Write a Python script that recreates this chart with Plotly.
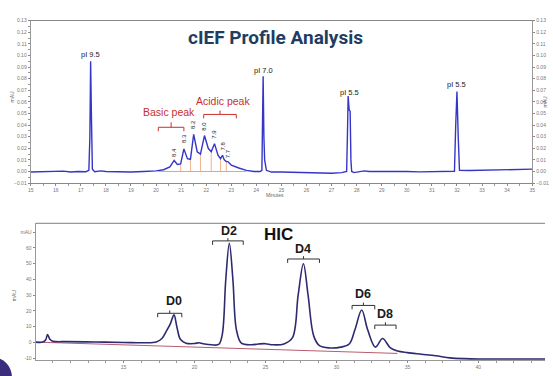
import plotly.graph_objects as go

# ---- cIEF electropherogram (minutes, mAU) ----
cief_time = [15.0, 15.5, 16.0, 16.3, 16.6, 16.9, 17.2, 17.32, 17.36, 17.39, 17.42, 17.46,
             17.55, 17.8, 18.0, 18.5, 19.0, 19.5, 19.8, 20.0, 20.3, 20.55, 20.72, 20.85,
             20.98, 21.11, 21.25, 21.37, 21.5, 21.64, 21.77, 21.93, 22.08, 22.2, 22.33,
             22.47, 22.57, 22.65, 22.72, 22.8, 22.86, 23.0, 23.3, 23.6, 23.9, 24.15, 24.22,
             24.25, 24.27, 24.3, 24.33, 24.4, 24.6, 25.0, 25.5, 26.0, 26.5, 27.0, 27.4,
             27.6, 27.63, 27.66, 27.7, 27.74, 27.77, 27.8, 27.9, 28.1, 28.3, 28.5, 29.0,
             29.5, 30.0, 30.5, 31.0, 31.5, 31.9, 31.95, 32.0, 32.05, 32.1, 32.5, 33.0,
             33.5, 34.0, 34.5, 35.0]
cief_signal = [-0.0005, -0.0003, -0.0002, 0.0003, -0.0005, 0.0, -0.0002, 0.001, 0.03, 0.095,
               0.05, 0.002, -0.0002, 0.0005, 0.0, -0.0005, -0.0005, 0.0, 0.0003, 0.0005,
               0.0015, 0.004, 0.0095, 0.006, 0.0065, 0.0195, 0.011, 0.0105, 0.032, 0.017,
               0.015, 0.031, 0.02, 0.017, 0.024, 0.014, 0.011, 0.014, 0.01, 0.0085, 0.0085,
               0.0055, 0.003, 0.001, 0.0, 0.0, 0.001, 0.04, 0.082, 0.03, 0.01, 0.001,
               -0.0005, -0.0005, -0.0008, -0.001, -0.0012, -0.0015, -0.001, 0.0, 0.03,
               0.065, 0.053, 0.052, 0.01, 0.0, -0.001, 0.0, 0.0005, 0.0, 0.0, 0.0005, 0.0,
               -0.0003, 0.0, -0.0002, 0.0002, 0.04, 0.069, 0.03, 0.001, 0.0008, 0.001,
               0.0012, 0.0015, 0.0018, 0.002]

# pI markers
pi_labels = ["pI 9.5", "pI 7.0", "pI 5.5", "pI 5.5"]
pi_time = [17.39, 24.27, 27.70, 32.0]
pi_label_y = [0.101, 0.0873, 0.0678, 0.0746]

# charge-variant cluster: peak labels and positions
variant_labels = ["8.4", "8.3", "8.2", "8.0", "7.9", "7.8", "7.7"]
variant_time = [20.72, 21.11, 21.50, 21.93, 22.33, 22.65, 22.85]
variant_label_y = [0.0161, 0.0288, 0.0407, 0.039, 0.0322, 0.022, 0.0153]

# integration drop lines (valleys) and baseline
drop_time = [20.98, 21.37, 21.77, 22.2, 22.57, 22.8]
drop_signal = [0.0065, 0.0105, 0.015, 0.017, 0.011, 0.0085]
cief_base_time = [20.1, 23.6]
cief_base_signal = [0.0, 0.0]

# ---- HIC chromatogram (minutes, mAU) ----
hic_time = [8.8, 9.3, 9.5, 9.64, 9.8, 10.0, 11.0, 13.0, 15.0, 16.5, 17.3, 17.7, 18.0,
            18.3, 18.55, 18.75, 19.0, 19.4, 20.0, 20.3, 20.6, 21.2, 21.7, 21.95, 22.2,
            22.45, 22.7, 22.95, 23.3, 24.0, 24.5, 25.0, 25.5, 26.3, 26.9, 27.3, 27.67,
            28.0, 28.4, 28.8, 29.5, 30.3, 30.9, 31.3, 31.78, 32.2, 32.75, 33.25, 33.8,
            34.3, 35.0, 36.0, 37.0, 38.0, 39.0, 40.0, 42.0, 44.7]
hic_signal = [0.2, 0.2, 1.5, 5.0, 2.0, 0.8, 0.5, 0.3, 0.0, -0.2, 0.3, 2.5, 7.0, 12.0, 17.5,
              10.0, 2.0, -0.5, -0.7, -0.2, -0.8, -1.5, -1.3, 5.0, 40.0, 63.0, 40.0, 8.0,
              -0.5, -1.5, -1.0, -0.8, -1.5, -1.0, 3.0, 30.0, 50.0, 30.0, 4.0, -2.0, -3.5,
              -3.0, -1.0, 8.0, 20.6, 8.0, -3.0, 2.5, -3.5, -5.5, -6.5, -7.5, -8.5, -9.8,
              -10.3, -10.5, -10.5, -10.5]
hic_base_time = [8.8, 34.3]
hic_base_signal = [0.2, -7.0]

hic_labels = ["D0", "D2", "D4", "D6", "D8"]
hic_label_time = [18.55, 22.45, 27.67, 31.85, 33.45]
hic_label_y = [26.0, 70.5, 59.5, 30.5, 18.0]
hic_bracket_left = [17.4, 21.27, 26.56, 31.1, 32.7]
hic_bracket_right = [19.1, 23.43, 28.8, 32.7, 34.2]
hic_bracket_y = [18.5, 64.5, 53.0, 23.5, 11.0]
hic_x_ticks = [15, 20, 25, 30, 35, 40]

W, H = 553, 376
TICK_FONT = dict(family="Liberation Sans Narrow, Liberation Sans, Arial", size=5, color="#777")
NARROW = "Liberation Sans Narrow, Liberation Sans, Arial"

fig = go.Figure()

# cIEF panel
fig.add_trace(go.Scatter(x=cief_base_time, y=cief_base_signal, mode="lines",
                         line=dict(color="#f0a070", width=1), xaxis="x", yaxis="y",
                         hoverinfo="skip"))
for t, s in zip(drop_time, drop_signal):
    fig.add_trace(go.Scatter(x=[t, t], y=[0.0, s], mode="lines",
                             line=dict(color="#f0a070", width=0.8), xaxis="x", yaxis="y",
                             hoverinfo="skip"))
fig.add_trace(go.Scatter(x=cief_time, y=cief_signal, mode="lines",
                         line=dict(color="#3535c8", width=1.4), xaxis="x", yaxis="y"))
# invisible trace so the right-hand mirror axis is drawn
fig.add_trace(go.Scatter(x=[15, 35], y=[0, 0], mode="lines", line=dict(width=0),
                         opacity=0, xaxis="x", yaxis="y3", hoverinfo="skip"))

# HIC panel
fig.add_trace(go.Scatter(x=hic_base_time, y=hic_base_signal, mode="lines",
                         line=dict(color="#b04a60", width=0.9), xaxis="x2", yaxis="y2",
                         hoverinfo="skip"))
fig.add_trace(go.Scatter(x=hic_time, y=hic_signal, mode="lines", line_shape="spline",
                         line=dict(color="#2e2a70", width=1.6), xaxis="x2", yaxis="y2"))

annotations = []
shapes = []


def paper_text(px, py, text, font, angle=0):
    return dict(x=px / W, y=1 - py / H, xref="paper", yref="paper", text=text,
                showarrow=False, textangle=angle, font=font,
                xanchor="center", yanchor="middle")


# cIEF annotations
for lab, t, y in zip(pi_labels, pi_time, pi_label_y):
    annotations.append(dict(x=t, y=y, xref="x", yref="y", text=lab, showarrow=False,
                            font=dict(family=NARROW, size=7.5, color="#222"),
                            xanchor="center", yanchor="middle"))
for lab, t, y in zip(variant_labels, variant_time, variant_label_y):
    annotations.append(dict(x=t, y=y, xref="x", yref="y", text=lab, showarrow=False,
                            textangle=-90,
                            font=dict(family=NARROW, size=6, color="#222"),
                            xanchor="center", yanchor="middle"))
annotations.append(dict(x=20.52, y=0.0517, xref="x", yref="y", text="Basic peak",
                        showarrow=False, xanchor="center", yanchor="middle",
                        font=dict(family=NARROW, size=10.5, color="#c8302c")))
annotations.append(dict(x=22.65, y=0.061, xref="x", yref="y", text="Acidic peak",
                        showarrow=False, xanchor="center", yanchor="middle",
                        font=dict(family=NARROW, size=10.5, color="#c8302c")))


def bracket(x0, x1, y, drop, rise, xref, yref, color, width):
    xm = (x0 + x1) / 2
    path = (f"M {x0} {y - drop} L {x0} {y} L {x1} {y} L {x1} {y - drop} "
            f"M {xm} {y} L {xm} {y + rise}")
    return dict(type="path", path=path, xref=xref, yref=yref,
                line=dict(color=color, width=width))


shapes.append(bracket(20.09, 21.11, 0.0381, 0.0034, 0.0043, "x", "y", "#c8302c", 1))
shapes.append(bracket(21.9, 23.2, 0.0492, 0.0034, 0.0033, "x", "y", "#c8302c", 1))

small = dict(family=NARROW, size=5, color="#666")
annotations.append(paper_text(275, 35, "<b>cIEF Profile Analysis</b>",
                              dict(family="Roboto, Liberation Sans, Arial", size=19,
                                   color="#1e3d62")))
annotations.append(paper_text(10, 95, "mAU", small, -90))
annotations.append(paper_text(548, 100, "mAU", small, -90))
annotations.append(paper_text(275, 195, "Minutes", small))

# HIC annotations
for lab, t, y in zip(hic_labels, hic_label_time, hic_label_y):
    annotations.append(dict(x=t, y=y, xref="x2", yref="y2", text=f"<b>{lab}</b>",
                            showarrow=False, xanchor="center", yanchor="middle",
                            font=dict(family="Liberation Sans, Arial", size=12.5,
                                      color="#1a1a1a")))
for x0, x1, y in zip(hic_bracket_left, hic_bracket_right, hic_bracket_y):
    shapes.append(bracket(x0, x1, y, 2.5, 1.8, "x2", "y2", "#333", 1))
annotations.append(paper_text(279, 235, "<b>HIC</b>",
                              dict(family="Liberation Sans, Arial", size=17, color="#111")))
annotations.append(paper_text(11, 297, "mAU", small, -90))

# decorative disc in the lower-left corner
shapes.append(dict(type="circle", xref="paper", yref="paper",
                   x0=-30 / W, x1=9 / W, y0=1 - 400 / H, y1=1 - 360 / H,
                   fillcolor="#3b2d7c", line=dict(width=0), layer="above"))
# top border of the HIC frame
shapes.append(dict(type="line", xref="paper", yref="paper", x0=33 / W, x1=548 / W,
                   y0=1 - 224 / H, y1=1 - 224 / H, line=dict(color="#999", width=1.2)))

axis_common = dict(showgrid=False, zeroline=False, ticks="outside", ticklen=2,
                   tickwidth=0.7, tickcolor="#888", tickfont=TICK_FONT,
                   showline=True, linecolor="#999", linewidth=1)

fig.update_layout(
    width=W, height=H,
    margin=dict(l=0, r=0, t=0, b=0),
    paper_bgcolor="white", plot_bgcolor="white",
    showlegend=False,
    xaxis=dict(domain=[28 / W, 535 / W], anchor="y", range=[15, 35], dtick=1,
               minor=dict(dtick=0.5, ticklen=1.5, tickcolor="#999", ticks="outside"),
               mirror=True, **axis_common),
    yaxis=dict(domain=[1 - 183 / H, 1 - 18 / H], anchor="x", range=[-0.01, 0.13],
               dtick=0.01, tickformat=".2f",
               minor=dict(dtick=0.005, ticklen=1.5, tickcolor="#999", ticks="outside"),
               **axis_common),
    yaxis3=dict(overlaying="y", side="right", anchor="x", range=[-0.01, 0.13],
                dtick=0.01, tickformat=".2f", **axis_common),
    xaxis2=dict(domain=[33 / W, 548 / W], anchor="y2", range=[8.8, 44.7],
                tickvals=hic_x_ticks,
                minor=dict(dtick=1.25, ticklen=2, tickcolor="#999", ticks="outside"),
                **axis_common),
    yaxis2=dict(domain=[1 - 363 / H, 1 - 224 / H], anchor="x2", range=[-11.3, 75.6],
                tickvals=[-10, 0, 10, 20, 30, 40, 50, 60, 70],
                ticktext=["-10", "0", "10", "20", "30", "40", "50", "60", "mAU"],
                **axis_common),
    annotations=annotations,
    shapes=shapes,
)
fig.update_layout(xaxis_linecolor="#888")

fig.write_html("out.html")
